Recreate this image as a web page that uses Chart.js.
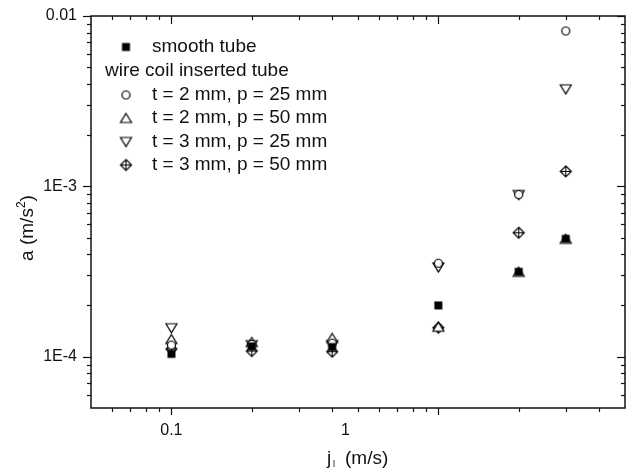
<!DOCTYPE html>
<html>
<head>
<meta charset="utf-8">
<script src="https://cdn.jsdelivr.net/npm/chart.js@4/dist/chart.umd.min.js"></script>
<style>
  html, body { margin: 0; padding: 0; background: #fff; }
  #wrap { width: 634px; height: 469px; }
</style>
</head>
<body>
<div id="wrap"><canvas id="chart" width="634" height="469"></canvas></div>
<script>
// Superficial liquid velocity j_l (m/s)
const jl = [0.1, 0.2, 0.4, 1, 2, 3];

// Acceleration a (m/s^2) for each tube
const smoothTube = [1.04e-4, 1.15e-4, 1.14e-4, 2.0e-4, 3.15e-4, 4.92e-4];
const t2p25 = [1.17e-4, 1.18e-4, 1.20e-4, 3.54e-4, 8.95e-4, 8.17e-3];
const t2p50 = [1.27e-4, 1.22e-4, 1.29e-4, 1.50e-4, 3.15e-4, 4.92e-4];
const t3p25 = [1.47e-4, 1.17e-4, 1.17e-4, 3.34e-4, 8.90e-4, 3.71e-3];
const t3p50 = [1.11e-4, 1.08e-4, 1.07e-4, 1.48e-4, 5.34e-4, 1.224e-3];

const seriesNames = [
  'smooth tube',
  't = 2 mm, p = 25 mm',
  't = 2 mm, p = 50 mm',
  't = 3 mm, p = 25 mm',
  't = 3 mm, p = 50 mm'
];
const legendHeader = 'wire coil inserted tube';

// Axis ranges and ticks
const xRange = [0.05, 5];
const yRange = [5e-5, 0.01];
const xMajorTicks = [0.1, 1];
const xTickLabels = ['0.1', '1'];
const xMinorTicks = [0.06, 0.07, 0.08, 0.09, 0.2, 0.3, 0.4, 0.5, 0.6, 0.7, 0.8, 0.9, 2, 3, 4];
const yMajorTicks = [1e-4, 1e-3, 1e-2];
const yTickLabels = ['1E-4', '1E-3', '0.01'];
const yMinorTicks = [6e-5, 7e-5, 8e-5, 9e-5,
  2e-4, 3e-4, 4e-4, 5e-4, 6e-4, 7e-4, 8e-4, 9e-4,
  2e-3, 3e-3, 4e-3, 5e-3, 6e-3, 7e-3, 8e-3, 9e-3];

const INK = '#111';
const FONT = '"Liberation Sans", Arial, Helvetica, sans-serif';

// Marker glyphs drawn on small canvases (centre at 7.5, 7.5)
function marker(kind) {
  const c = document.createElement('canvas');
  c.width = 15; c.height = 15;
  const g = c.getContext('2d');
  g.lineWidth = 1.2;
  g.strokeStyle = '#000';
  g.fillStyle = '#fff';
  g.beginPath();
  if (kind === 'square') {
    g.fillStyle = '#000';
    g.fillRect(3.5, 3.5, 8, 8);
    return c;
  } else if (kind === 'circle') {
    g.arc(7.5, 7.5, 4, 0, Math.PI * 2);
  } else if (kind === 'up') {
    g.moveTo(7.5, 3); g.lineTo(13, 12); g.lineTo(2, 12); g.closePath();
  } else if (kind === 'down') {
    g.moveTo(2, 3); g.lineTo(13, 3); g.lineTo(7.5, 12); g.closePath();
  } else if (kind === 'diamond') {
    g.moveTo(7.5, 2); g.lineTo(13, 7.5); g.lineTo(7.5, 13); g.lineTo(2, 7.5); g.closePath();
  }
  g.fill();
  g.stroke();
  if (kind === 'diamond') {
    g.beginPath();
    g.lineWidth = 1;
    g.moveTo(7.5, 2); g.lineTo(7.5, 13);
    g.moveTo(2, 7.5); g.lineTo(13, 7.5);
    g.stroke();
  }
  return c;
}
const markers = [marker('square'), marker('circle'), marker('up'), marker('down'), marker('diamond')];
const seriesValues = [smoothTube, t2p25, t2p50, t3p25, t3p50];

// Draw order: smooth tube first so the open markers sit on top
const datasets = seriesValues.map((vals, i) => ({
  label: seriesNames[i],
  data: jl.map((x, k) => ({ x: x, y: vals[k] })),
  pointStyle: markers[i],
  pointRadius: 5,
  showLine: false
}));

// Frame, ticks, tick labels, titles and legend
const axesPlugin = {
  id: 'originAxes',
  afterDraw(chart) {
    const ctx = chart.ctx;
    const a = chart.chartArea;
    const xs = chart.scales.x, ys = chart.scales.y;
    ctx.save();
    ctx.strokeStyle = INK;
    ctx.fillStyle = INK;
    ctx.lineWidth = 1.5;
    ctx.strokeRect(a.left, a.top, a.right - a.left, a.bottom - a.top);

    ctx.lineWidth = 1.2;
    const tick = (x1, y1, x2, y2) => { ctx.beginPath(); ctx.moveTo(x1, y1); ctx.lineTo(x2, y2); ctx.stroke(); };
    xMajorTicks.forEach(v => { const p = Math.round(xs.getPixelForValue(v)) + 0.5; tick(p, a.bottom, p, a.bottom + 7); tick(p, a.top, p, a.top + 8); });
    xMinorTicks.forEach(v => { const p = Math.round(xs.getPixelForValue(v)) + 0.5; tick(p, a.bottom, p, a.bottom + 4); tick(p, a.top, p, a.top + 4); });
    yMajorTicks.forEach(v => { const p = Math.round(ys.getPixelForValue(v)) + 0.5; tick(a.left - 8, p, a.left, p); tick(a.right, p, a.right - 8, p); });
    yMinorTicks.forEach(v => { const p = Math.round(ys.getPixelForValue(v)) + 0.5; tick(a.left - 4, p, a.left, p); tick(a.right, p, a.right - 4, p); });

    // tick labels
    ctx.font = '16px ' + FONT;
    ctx.textAlign = 'center';
    ctx.textBaseline = 'alphabetic';
    const xLabelShift = [0, -93];
    xMajorTicks.forEach((v, i) => {
      ctx.fillText(xTickLabels[i], xs.getPixelForValue(v) + xLabelShift[i], a.bottom + 27);
    });
    ctx.textAlign = 'right';
    ctx.textBaseline = 'middle';
    yMajorTicks.forEach((v, i) => {
      ctx.fillText(yTickLabels[i], a.left - 14, ys.getPixelForValue(v));
    });

    // x title: j_l (m/s)
    ctx.font = '19px ' + FONT;
    ctx.textBaseline = 'alphabetic';
    ctx.textAlign = 'left';
    const xt = 327, yt = 464;
    ctx.fillText('j', xt, yt);
    ctx.font = '9px ' + FONT;
    ctx.fillText('l', xt + 6, yt + 3);
    ctx.font = '19px ' + FONT;
    ctx.fillText('(m/s)', xt + 18, yt);

    // y title: a (m/s²)
    ctx.save();
    ctx.translate(33, 228);
    ctx.rotate(-Math.PI / 2);
    ctx.font = '19px ' + FONT;
    const main = 'a (m/s';
    const w1 = ctx.measureText(main).width;
    ctx.font = '12px ' + FONT;
    const w2 = ctx.measureText('2').width;
    ctx.font = '19px ' + FONT;
    const w3 = ctx.measureText(')').width;
    let x0 = -(w1 + w2 + w3) / 2;
    ctx.textAlign = 'left';
    ctx.fillText(main, x0, 0);
    ctx.font = '12px ' + FONT;
    ctx.fillText('2', x0 + w1, -8);
    ctx.font = '19px ' + FONT;
    ctx.fillText(')', x0 + w1 + w2, 0);
    ctx.restore();

    // legend
    ctx.font = '19px ' + FONT;
    ctx.textAlign = 'left';
    ctx.textBaseline = 'middle';
    const mx = 126, tx = 152;
    const rows = [47, 95, 118, 142, 165];
    rows.forEach((ry, i) => {
      ctx.drawImage(markers[i], mx - 7.5, ry - 7.5);
      ctx.fillText(seriesNames[i], tx, ry);
    });
    ctx.fillText(legendHeader, 105, 71);
    ctx.restore();
  }
};

new Chart(document.getElementById('chart'), {
  type: 'scatter',
  data: { datasets: datasets },
  options: {
    responsive: false,
    animation: false,
    layout: { padding: { left: 91, right: 9, top: 16, bottom: 61 } },
    plugins: { legend: { display: false }, tooltip: { enabled: false } },
    scales: {
      x: { type: 'logarithmic', min: xRange[0], max: xRange[1], display: false },
      y: { type: 'logarithmic', min: yRange[0], max: yRange[1], display: false }
    },
    elements: { point: { radius: 5 } }
  },
  plugins: [axesPlugin]
});
</script>
</body>
</html>
